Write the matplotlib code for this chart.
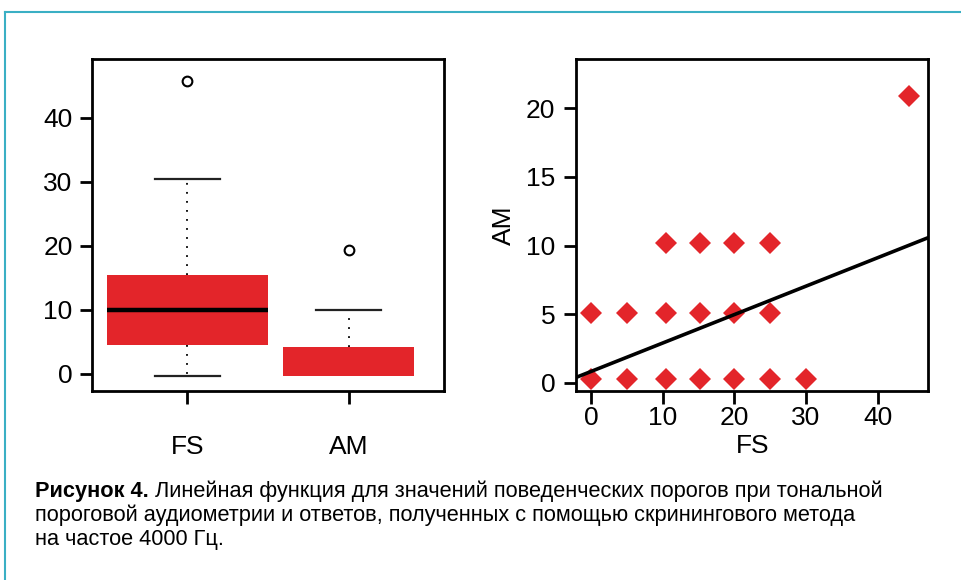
import numpy as np
import matplotlib.pyplot as plt
from matplotlib.lines import Line2D

plt.rcParams['font.family'] = ['Liberation Sans', 'DejaVu Sans']

RED = '#e3252a'
TEAL = '#3aafc4'

# box summaries: FS and AM thresholds
box_names = ['FS', 'AM']
box_q1 = [4.5, -0.4]
box_med = [10.0, -0.4]
box_q3 = [15.4, 4.2]
box_lo = [-0.3, -0.4]
box_hi = [30.5, 10.0]
box_out = [[45.7], [19.3]]
box_w = [1.0, 0.81]

# scatter: FS (x) vs AM (y)
fs_vals = [0, 5, 10.4, 15.2, 20, 25, 30,
           0, 5, 10.4, 15.2, 20, 25,
           10.4, 15.2, 20, 25,
           44.4]
am_vals = [0.3, 0.3, 0.3, 0.3, 0.3, 0.3, 0.3,
           5.1, 5.1, 5.1, 5.1, 5.1, 5.1,
           10.2, 10.2, 10.2, 10.2,
           20.9]
fit_a = 0.83
fit_b = 0.207

caption_bold = 'Рисунок 4.'
caption_rest = ' Линейная функция для значений поведенческих порогов при тональной'
caption_lines = ['пороговой аудиометрии и ответов, полученных с помощью скринингового метода',
                 'на частое 4000 Гц.']

W, H = 962, 580
FS_TXT = 19
fig = plt.figure(figsize=(W / 100, H / 100), dpi=100)

# frame of the figure panel
fig.add_artist(Line2D([5 / W, 5 / W], [0, 1 - 12 / H], color=TEAL, lw=1.5))
fig.add_artist(Line2D([5 / W, 1], [1 - 12 / H, 1 - 12 / H], color=TEAL, lw=1.5))


def style_axes(ax):
    for s in ax.spines.values():
        s.set_linewidth(2.0)
    ax.tick_params(length=9, width=2, labelsize=FS_TXT, direction='out')


# --- boxplot ---
ax1 = fig.add_axes([92 / W, 1 - 391 / H, 352 / W, 332 / H])
stats = []
for i in range(2):
    stats.append(dict(med=box_med[i], q1=box_q1[i], q3=box_q3[i],
                      whislo=box_lo[i], whishi=box_hi[i], fliers=box_out[i]))
res = ax1.bxp(stats, positions=[1, 2], widths=box_w, patch_artist=True,
              showcaps=True,
              boxprops=dict(facecolor=RED, edgecolor=RED, linewidth=0),
              medianprops=dict(color='black', linewidth=3.2, solid_capstyle='butt'),
              whiskerprops=dict(color='black', linewidth=1.3, linestyle=(0, (1, 4))),
              capprops=dict(color='#222222', linewidth=1.6),
              flierprops=dict(marker='o', markerfacecolor='none',
                              markeredgecolor='black', markersize=7,
                              markeredgewidth=1.5))
for c in res['caps']:
    x0, x1 = c.get_xdata()
    xm = (x0 + x1) / 2
    c.set_xdata([xm - 0.2, xm + 0.2])
# AM median and lower whisker coincide with the box bottom
res['medians'][1].set_visible(False)
res['caps'][2].set_visible(False)
ax1.set_xlim(0.41, 2.59)
ax1.set_ylim(-2.7, 49.2)
ax1.set_yticks([0, 10, 20, 30, 40])
ax1.set_xticks([1, 2])
ax1.set_xticklabels(box_names)
style_axes(ax1)
ax1.tick_params(axis='x', pad=23)
ax1.tick_params(axis='y', pad=5)

# --- scatter with regression line ---
ax2 = fig.add_axes([576.3 / W, 1 - 390.7 / H, 352 / W, 331.7 / H])
ax2.plot(fs_vals, am_vals, linestyle='none', marker='D', color=RED,
         markersize=11, markeredgewidth=0, zorder=3)
xl = (-2.1, 47.1)
xx = np.array(xl)
ax2.plot(xx, fit_a + fit_b * xx, color='black', linewidth=2.6, zorder=4)
ax2.set_xlim(*xl)
ax2.set_ylim(-0.58, 23.6)
ax2.set_xticks([0, 10, 20, 30, 40])
ax2.set_yticks([0, 5, 10, 15, 20])
style_axes(ax2)
ax2.tick_params(axis='x', pad=2)
ax2.tick_params(axis='y', pad=6)
ax2.set_xlabel('FS', fontsize=FS_TXT, labelpad=3)
ax2.set_ylabel('AM', fontsize=FS_TXT, labelpad=7)

# --- caption ---
t = fig.text(35 / W, 1 - 491 / H, caption_bold, fontsize=15.7, fontweight='bold',
             va='center', ha='left')
fig.canvas.draw()
bb = t.get_window_extent()
fig.text(bb.x1 / W, 1 - 491 / H, caption_rest, fontsize=15.7, va='center', ha='left')
for k, line in enumerate(caption_lines):
    fig.text(35 / W, 1 - (515 + 24 * k) / H, line, fontsize=15.7, va='center', ha='left')

fig.savefig('out.png', dpi=100)
